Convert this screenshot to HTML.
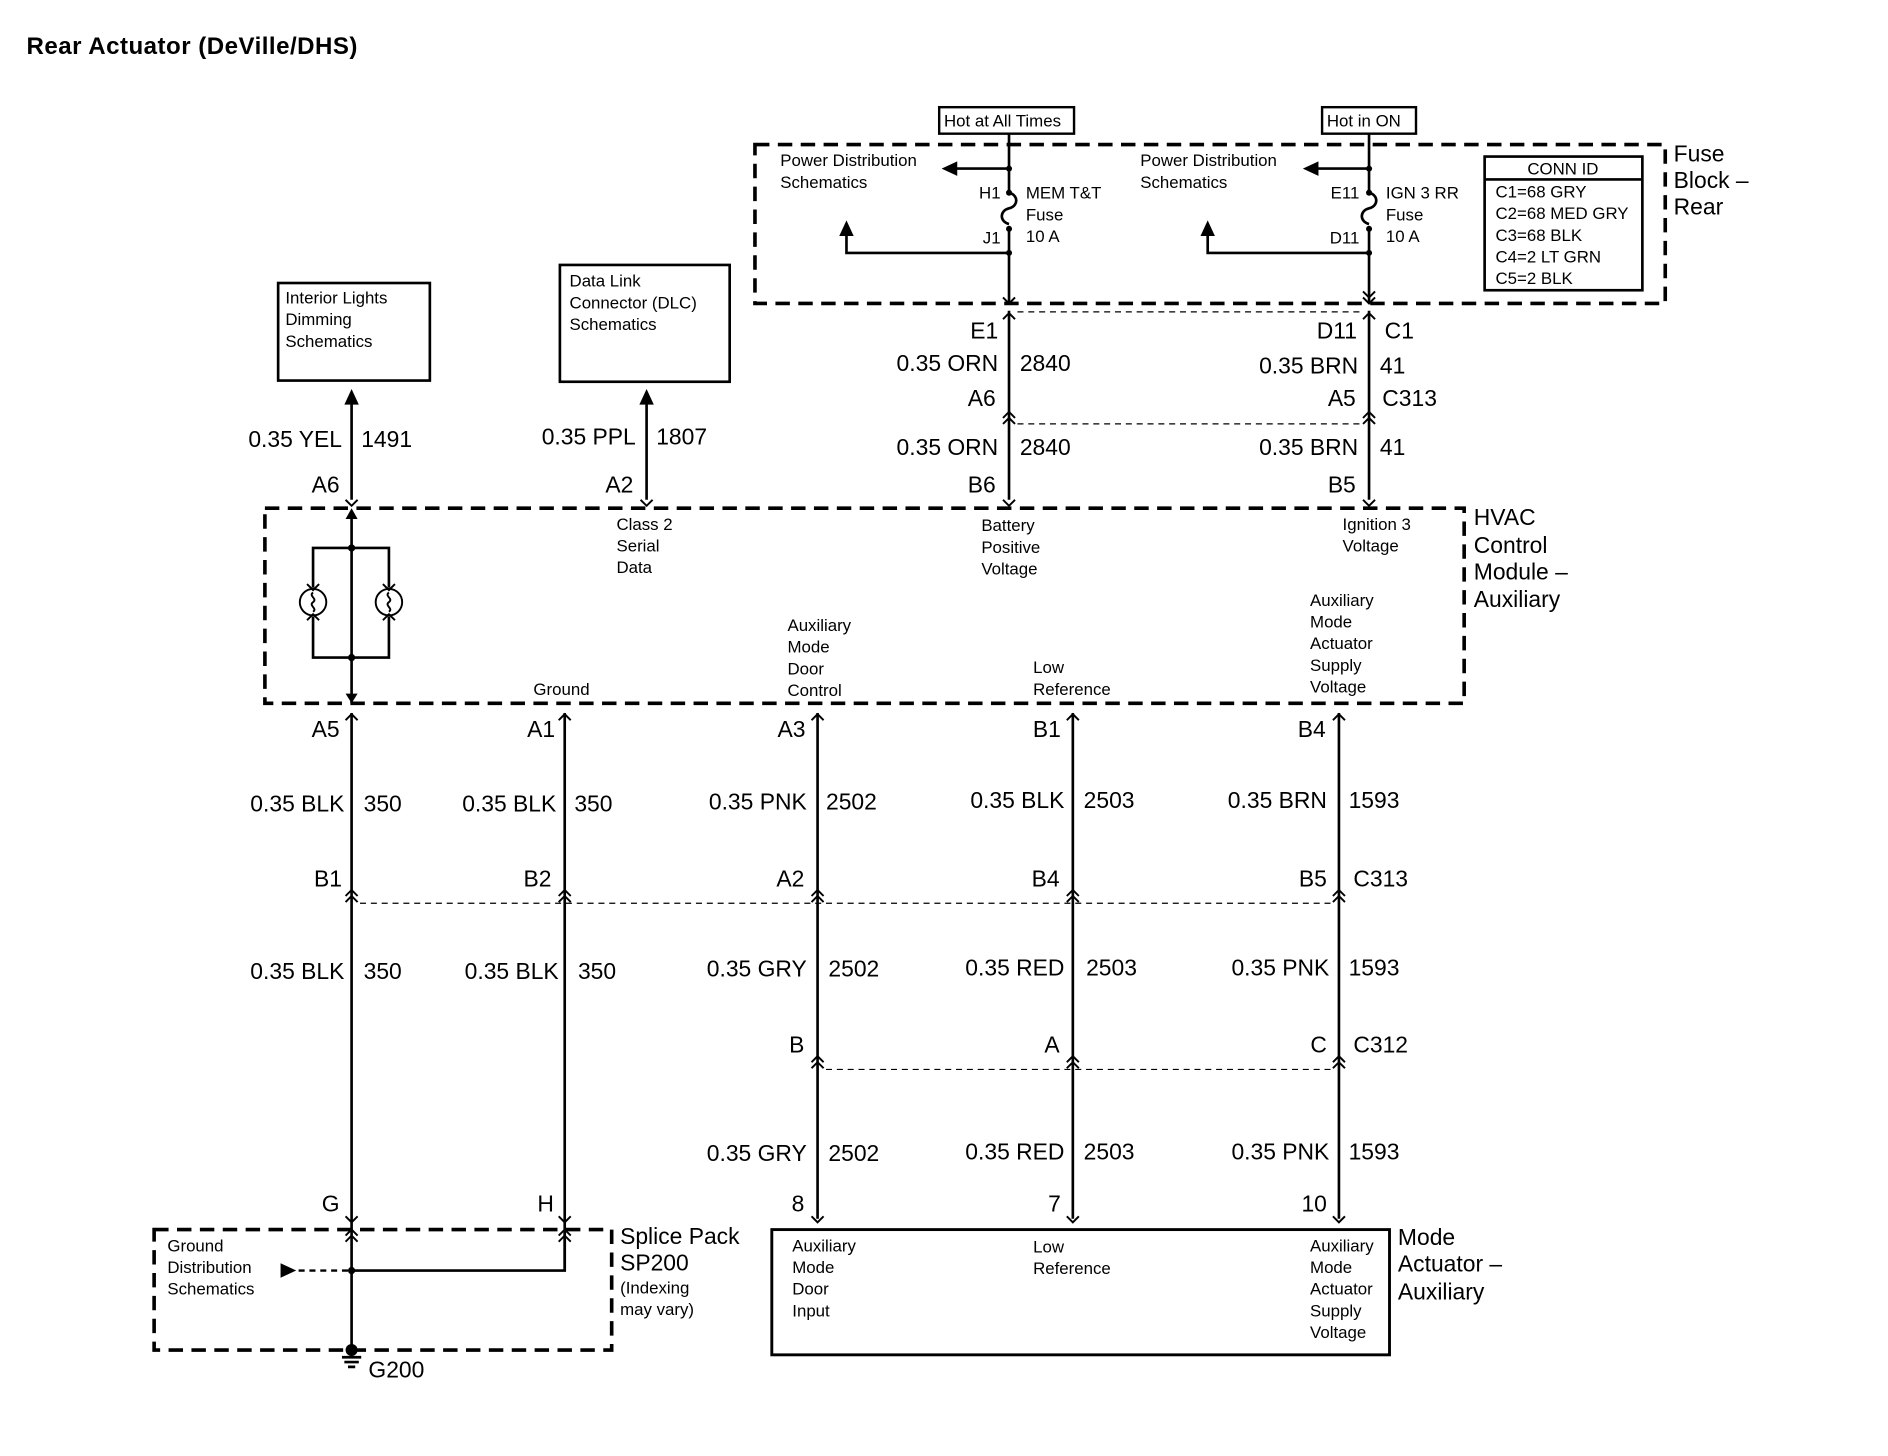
<!DOCTYPE html>
<html><head><meta charset="utf-8"><style>
html,body{margin:0;padding:0;background:#fff;}
svg{display:block}
text{font-family:"Liberation Sans",Arial,sans-serif;fill:#000}
.s{font-size:14px}
.w{font-size:19px}
.r{text-anchor:end}
.l{stroke:#000;stroke-width:2.2;fill:none}
.d{stroke:#000;stroke-width:3;fill:none;stroke-dasharray:12,7}
.t{stroke:#000;stroke-width:1;fill:none;stroke-dasharray:5,4}
.c{stroke:#000;stroke-width:1.6;fill:none}
</style></head><body>
<svg width="1888" height="1456" viewBox="0 0 1568 1209" preserveAspectRatio="none" xmlns="http://www.w3.org/2000/svg">
<defs>
<g id="dn"><path class="c" d="M-5,-5 L0,0 L5,-5"/></g>
<g id="up"><path class="c" d="M-5,5 L0,0 L5,5"/></g>
<g id="up2"><path class="c" d="M-5,5 L0,0 L5,5 M-5,10 L0,5 L5,10"/></g>
<g id="dn2"><path class="c" d="M-5,-5 L0,0 L5,-5 M-5,-10 L0,-5 L5,-10"/></g>
</defs>
<text x="22" y="45" style="font-size:20px;font-weight:bold;letter-spacing:0.4px">Rear Actuator (DeVille/DHS)</text>

<!-- Fuse block -->
<rect x="627" y="120" width="756" height="132" class="d"/>
<text x="1390" y="134" class="w">Fuse</text><text x="1390" y="156" class="w">Block –</text><text x="1390" y="178" class="w">Rear</text>
<rect x="780" y="89" width="112" height="22" style="stroke:#000;stroke-width:2;fill:#fff"/>
<text x="784" y="105" class="s">Hot at All Times</text>
<rect x="1098" y="89" width="78" height="22" style="stroke:#000;stroke-width:2;fill:#fff"/>
<text x="1102" y="105" class="s">Hot in ON</text>

<g>
<path class="l" d="M838,111 V160 M838,190 V252"/>
<path class="l" d="M838,160 c8,2 8,11 0,13 c-8,2 -8,11 0,13"/>
<circle cx="838" cy="140" r="2.5"/><circle cx="838" cy="160" r="2.5"/><circle cx="838" cy="190" r="2.5"/><circle cx="838" cy="210" r="2.5"/>
<path class="l" d="M838,140 H792"/><path d="M782,140 L795,134 L795,146Z"/>
<path class="l" d="M838,210 H703 V195"/><path d="M703,183 L697,196 L709,196Z"/>
<text x="648" y="138" class="s">Power Distribution</text><text x="648" y="156" class="s">Schematics</text>
<text x="831" y="165" class="s r">H1</text><text x="831" y="202" class="s r">J1</text>
<text x="852" y="165" class="s">MEM T&amp;T</text><text x="852" y="183" class="s">Fuse</text><text x="852" y="201" class="s">10 A</text>
<use href="#dn" x="838" y="252"/>
</g>
<g>
<path class="l" d="M1137,111 V160 M1137,190 V252"/>
<path class="l" d="M1137,160 c8,2 8,11 0,13 c-8,2 -8,11 0,13"/>
<circle cx="1137" cy="140" r="2.5"/><circle cx="1137" cy="160" r="2.5"/><circle cx="1137" cy="190" r="2.5"/><circle cx="1137" cy="210" r="2.5"/>
<path class="l" d="M1137,140 H1092"/><path d="M1082,140 L1095,134 L1095,146Z"/>
<path class="l" d="M1137,210 H1003 V195"/><path d="M1003,183 L997,196 L1009,196Z"/>
<text x="947" y="138" class="s">Power Distribution</text><text x="947" y="156" class="s">Schematics</text>
<text x="1129" y="165" class="s r">E11</text><text x="1129" y="202" class="s r">D11</text>
<text x="1151" y="165" class="s">IGN 3 RR</text><text x="1151" y="183" class="s">Fuse</text><text x="1151" y="201" class="s">10 A</text>
<use href="#dn2" x="1137" y="252"/>
</g>
<rect x="1233" y="130" width="131" height="111" style="stroke:#000;stroke-width:2.2;fill:none"/>
<line x1="1233" y1="149" x2="1364" y2="149" class="l"/>
<text x="1298" y="145" class="s" text-anchor="middle">CONN ID</text>
<text x="1242" y="164" class="s">C1=68 GRY</text><text x="1242" y="182" class="s">C2=68 MED GRY</text><text x="1242" y="200" class="s">C3=68 BLK</text><text x="1242" y="218" class="s">C4=2 LT GRN</text><text x="1242" y="236" class="s">C5=2 BLK</text>

<!-- top wires into HVAC -->
<path class="l" d="M838,258 V415 M1137,258 V415"/>
<use href="#up" x="838" y="260"/><use href="#up" x="1137" y="260"/>
<path class="t" d="M845,259 H1130 M845,352 H1130"/>
<use href="#up2" x="838" y="342"/><use href="#up2" x="1137" y="342"/>
<use href="#dn" x="838" y="420"/><use href="#dn" x="1137" y="420"/>
<text x="829" y="281" class="w r">E1</text>
<text x="1127" y="281" class="w r">D11</text><text x="1150" y="281" class="w">C1</text>
<text x="829" y="308" class="w r">0.35 ORN</text><text x="847" y="308" class="w">2840</text>
<text x="1128" y="310" class="w r">0.35 BRN</text><text x="1146" y="310" class="w">41</text>
<text x="827" y="337" class="w r">A6</text><text x="1126" y="337" class="w r">A5</text><text x="1148" y="337" class="w">C313</text>
<text x="829" y="378" class="w r">0.35 ORN</text><text x="847" y="378" class="w">2840</text>
<text x="1128" y="378" class="w r">0.35 BRN</text><text x="1146" y="378" class="w">41</text>
<text x="827" y="409" class="w r">B6</text><text x="1126" y="409" class="w r">B5</text>

<rect x="231" y="235" width="126" height="81" style="stroke:#000;stroke-width:2.2;fill:none"/>
<text x="237" y="252" class="s">Interior Lights</text><text x="237" y="270" class="s">Dimming</text><text x="237" y="288" class="s">Schematics</text>
<path class="l" d="M292,334 V415"/><path d="M292,323 L286,336 L298,336Z"/>
<text x="284" y="371" class="w r">0.35 YEL</text><text x="300" y="371" class="w">1491</text>
<text x="282" y="409" class="w r">A6</text>
<rect x="465" y="220" width="141" height="97" style="stroke:#000;stroke-width:2.2;fill:none"/>
<text x="473" y="238" class="s">Data Link</text><text x="473" y="256" class="s">Connector (DLC)</text><text x="473" y="274" class="s">Schematics</text>
<path class="l" d="M537,334 V415"/><path d="M537,323 L531,336 L543,336Z"/>
<text x="528" y="369" class="w r">0.35 PPL</text><text x="545" y="369" class="w">1807</text>
<text x="526" y="409" class="w r">A2</text>
<use href="#dn" x="292" y="420"/><use href="#dn" x="537" y="420"/>

<!-- HVAC -->
<rect x="220" y="422" width="996" height="162" class="d"/>
<text x="1224" y="436" class="w">HVAC</text><text x="1224" y="459" class="w">Control</text><text x="1224" y="481" class="w">Module –</text><text x="1224" y="504" class="w">Auxiliary</text>
<text x="512" y="440" class="s">Class 2</text><text x="512" y="458" class="s">Serial</text><text x="512" y="476" class="s">Data</text>
<text x="815" y="441" class="s">Battery</text><text x="815" y="459" class="s">Positive</text><text x="815" y="477" class="s">Voltage</text>
<text x="1115" y="440" class="s">Ignition 3</text><text x="1115" y="458" class="s">Voltage</text>
<text x="443" y="577" class="s">Ground</text>
<text x="654" y="524" class="s">Auxiliary</text><text x="654" y="542" class="s">Mode</text><text x="654" y="560" class="s">Door</text><text x="654" y="578" class="s">Control</text>
<text x="858" y="559" class="s">Low</text><text x="858" y="577" class="s">Reference</text>
<text x="1088" y="503" class="s">Auxiliary</text><text x="1088" y="521" class="s">Mode</text><text x="1088" y="539" class="s">Actuator</text><text x="1088" y="557" class="s">Supply</text><text x="1088" y="575" class="s">Voltage</text>
<path class="l" d="M292,430 V584"/><path d="M292,422 L287,431 L297,431Z"/>
<circle cx="292" cy="455" r="3"/><circle cx="292" cy="546" r="3"/>
<path class="l" d="M260,488 V455 H323 V488 M260,512 V546 H323 V512"/>
<circle cx="260" cy="500" r="11" class="c"/><circle cx="323" cy="500" r="11" class="c"/>
<path class="c" d="M260,492 c-4,3 4,5 0,8 c-4,3 4,5 0,8 M323,492 c-4,3 4,5 0,8 c-4,3 4,5 0,8"/>
<path class="c" d="M255,485 L260,490 L265,485 M255,515 L260,510 L265,515 M318,485 L323,490 L328,485 M318,515 L323,510 L328,515"/>
<path d="M292,584 L287,576 L297,576Z"/>

<!-- bottom wires -->
<path class="l" d="M292,592 V1121 M469,592 V1055 M679,592 V1012 M891,592 V1012 M1112,592 V1012"/>
<use href="#up" x="292" y="593"/><use href="#up" x="469" y="593"/><use href="#up" x="679" y="593"/><use href="#up" x="891" y="593"/><use href="#up" x="1112" y="593"/>
<text x="282" y="612" class="w r">A5</text><text x="461" y="612" class="w r">A1</text><text x="669" y="612" class="w r">A3</text><text x="881" y="612" class="w r">B1</text><text x="1101" y="612" class="w r">B4</text>
<text x="286" y="674" class="w r">0.35 BLK</text><text x="302" y="674" class="w">350</text>
<text x="462" y="674" class="w r">0.35 BLK</text><text x="477" y="674" class="w">350</text>
<text x="670" y="672" class="w r">0.35 PNK</text><text x="686" y="672" class="w">2502</text>
<text x="884" y="671" class="w r">0.35 BLK</text><text x="900" y="671" class="w">2503</text>
<text x="1102" y="671" class="w r">0.35 BRN</text><text x="1120" y="671" class="w">1593</text>
<text x="284" y="736" class="w r">B1</text><text x="458" y="736" class="w r">B2</text><text x="668" y="736" class="w r">A2</text><text x="880" y="736" class="w r">B4</text><text x="1102" y="736" class="w r">B5</text><text x="1124" y="736" class="w">C313</text>
<path class="t" d="M299,750 H1105"/>
<use href="#up2" x="292" y="739"/><use href="#up2" x="469" y="739"/><use href="#up2" x="679" y="739"/><use href="#up2" x="891" y="739"/><use href="#up2" x="1112" y="739"/>
<text x="286" y="813" class="w r">0.35 BLK</text><text x="302" y="813" class="w">350</text>
<text x="464" y="813" class="w r">0.35 BLK</text><text x="480" y="813" class="w">350</text>
<text x="670" y="811" class="w r">0.35 GRY</text><text x="688" y="811" class="w">2502</text>
<text x="884" y="810" class="w r">0.35 RED</text><text x="902" y="810" class="w">2503</text>
<text x="1104" y="810" class="w r">0.35 PNK</text><text x="1120" y="810" class="w">1593</text>
<text x="668" y="874" class="w r">B</text><text x="880" y="874" class="w r">A</text><text x="1102" y="874" class="w r">C</text><text x="1124" y="874" class="w">C312</text>
<path class="t" d="M686,888 H1105"/>
<use href="#up2" x="679" y="877"/><use href="#up2" x="891" y="877"/><use href="#up2" x="1112" y="877"/>
<text x="670" y="964" class="w r">0.35 GRY</text><text x="688" y="964" class="w">2502</text>
<text x="884" y="963" class="w r">0.35 RED</text><text x="900" y="963" class="w">2503</text>
<text x="1104" y="963" class="w r">0.35 PNK</text><text x="1120" y="963" class="w">1593</text>
<text x="282" y="1006" class="w r">G</text><text x="460" y="1006" class="w r">H</text><text x="668" y="1006" class="w r">8</text><text x="881" y="1006" class="w r">7</text><text x="1102" y="1006" class="w r">10</text>
<use href="#dn" x="292" y="1015"/><use href="#dn" x="469" y="1015"/><use href="#dn" x="679" y="1015"/><use href="#dn" x="891" y="1015"/><use href="#dn" x="1112" y="1015"/>

<!-- splice pack -->
<rect x="128" y="1021" width="380" height="100" class="d"/>
<use href="#up2" x="292" y="1021"/><use href="#up2" x="469" y="1021"/>
<text x="515" y="1033" class="w">Splice Pack</text><text x="515" y="1055" class="w">SP200</text>
<text x="515" y="1074" class="s">(Indexing</text><text x="515" y="1092" class="s">may vary)</text>
<text x="139" y="1039" class="s">Ground</text><text x="139" y="1057" class="s">Distribution</text><text x="139" y="1075" class="s">Schematics</text>
<path d="M233,1049 L246,1055 L233,1061Z"/>
<path class="t" d="M248,1055 H292" style="stroke-width:2"/>
<path class="l" d="M292,1055 H469 V1021"/>
<circle cx="292" cy="1055" r="3"/>
<circle cx="292" cy="1121" r="5"/>
<path class="l" d="M284,1127 H300 M286,1131 H298 M289,1135 H295"/>
<text x="306" y="1144" class="w">G200</text>

<rect x="641" y="1021" width="513" height="104" style="stroke:#000;stroke-width:2.4;fill:none"/>
<text x="658" y="1039" class="s">Auxiliary</text><text x="658" y="1057" class="s">Mode</text><text x="658" y="1075" class="s">Door</text><text x="658" y="1093" class="s">Input</text>
<text x="858" y="1040" class="s">Low</text><text x="858" y="1058" class="s">Reference</text>
<text x="1088" y="1039" class="s">Auxiliary</text><text x="1088" y="1057" class="s">Mode</text><text x="1088" y="1075" class="s">Actuator</text><text x="1088" y="1093" class="s">Supply</text><text x="1088" y="1111" class="s">Voltage</text>
<text x="1161" y="1034" class="w">Mode</text><text x="1161" y="1056" class="w">Actuator –</text><text x="1161" y="1079" class="w">Auxiliary</text>
</svg>
</body></html>
